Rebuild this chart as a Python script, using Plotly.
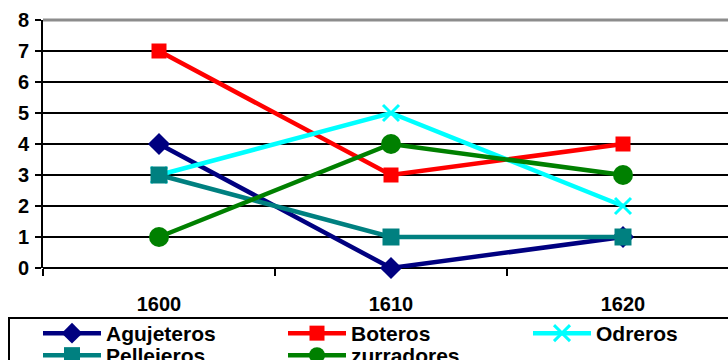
import plotly.graph_objects as go

# Data
years = ["1600", "1610", "1620"]
agujeteros = [4, 0, 1]
boteros = [7, 3, 4]
odreros = [3, 5, 2]
pellejeros = [3, 1, 1]
zurradores = [1, 4, 3]

W, H = 728, 360
ML, MR, MT, MB = 43, 0, 20, 92
PW, PH = W - ML - MR, H - MT - MB


def px_x(p):
    return (p - ML) / PW


def px_y(p):
    return (H - MB - p) / PH


# name, values, colour, marker, legend slot (column left px, row top px)
series = [
    ("Agujeteros", agujeteros, "#000080", dict(symbol="diamond", size=17), (38, 313)),
    ("Boteros", boteros, "#FF0000", dict(symbol="square", size=15), (283, 313)),
    ("Odreros", odreros, "#00FFFF", dict(symbol="x-thin", size=16,
                                          line=dict(width=3, color="#00FFFF")), (528, 313)),
    ("Pellejeros", pellejeros, "#008080", dict(symbol="square", size=17), (38, 335)),
    ("zurradores", zurradores, "#008000", dict(symbol="circle", size=20), (283, 335)),
]

FAMILY = "Liberation Sans, Arial, sans-serif"
x_font = dict(family=FAMILY, size=20, color="black", weight="bold")
y_font = dict(family=FAMILY, size=20, color="black", weight="bold")
leg_font = dict(family=FAMILY, size=21, color="black", weight="bold")

fig = go.Figure()
legends = {}
for i, (name, vals, color, mk, (lx, ly)) in enumerate(series):
    key = "legend" if i == 0 else f"legend{i + 1}"
    fig.add_trace(go.Scatter(
        x=years, y=vals, name=name, mode="lines+markers",
        line=dict(color=color, width=4.5),
        marker=dict(color=color, **mk),
        legend=key, cliponaxis=False,
    ))
    legends[key] = dict(
        orientation="h", xanchor="left", yanchor="top",
        x=px_x(lx), y=px_y(ly), itemwidth=58,
        font=leg_font, bgcolor="rgba(0,0,0,0)", borderwidth=0, itemclick=False,
    )

fig.update_layout(
    width=W, height=H,
    margin=dict(l=ML, r=MR, t=MT, b=MB, autoexpand=False),
    paper_bgcolor="white", plot_bgcolor="white",
    font=dict(family=FAMILY),
    xaxis=dict(
        type="category", range=[-0.5, 2 + 105 / 232],
        showgrid=False, showline=False, zeroline=False,
        ticks="outside", tickson="boundaries", ticklen=7, tickwidth=2, tickcolor="black",
        tickfont=x_font, ticklabelstandoff=22,
    ),
    yaxis=dict(
        range=[0, 8], dtick=1, showgrid=True, gridcolor="black", gridwidth=2,
        zeroline=True, zerolinecolor="black", zerolinewidth=2,
        showline=True, linecolor="black", linewidth=2,
        ticks="outside", ticklen=6, tickwidth=2, tickcolor="black",
        tickfont=y_font, ticklabelstandoff=2,
    ),
    showlegend=True,
    **legends,
)

# Plot-area top border and legend frame
fig.add_shape(type="line", xref="paper", yref="paper", x0=0, x1=1.01, y0=1, y1=1,
              line=dict(color="#8c8c8c", width=3), layer="above")
fig.add_shape(type="rect", xref="paper", yref="paper",
              x0=px_x(9), x1=px_x(740), y0=px_y(318), y1=px_y(380),
              line=dict(color="black", width=2), fillcolor="rgba(0,0,0,0)")

fig.write_html("out.html")
